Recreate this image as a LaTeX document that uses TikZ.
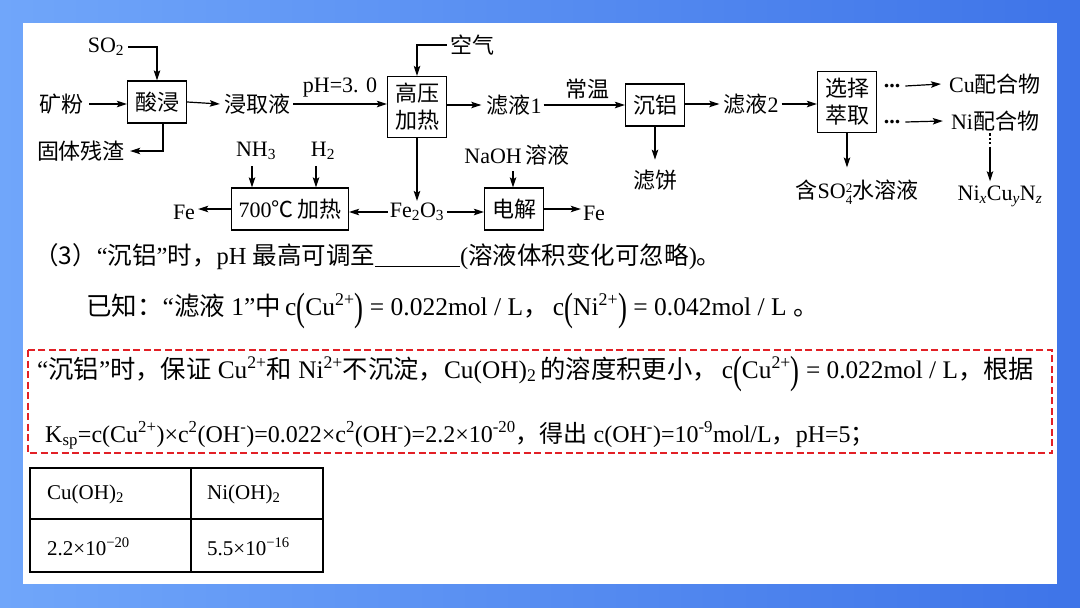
\documentclass[tikz,border=0pt]{standalone}
\usepackage{fontspec}
\setmainfont{Liberation Serif}
\newfontfamily\cjk{Noto Sans CJK SC}
\usetikzlibrary{arrows.meta}
\newcommand\fs{\fontsize{22}{27}\selectfont}
\newcommand\ft{\fontsize{21}{25}\selectfont}
\newcommand\lp{\raisebox{-0.2em}{\scalebox{1.05}[1.55]{(}}}
\newcommand\rp{\raisebox{-0.2em}{\scalebox{1.05}[1.55]{)}}}
\definecolor{bgl}{RGB}{112,166,250}
\definecolor{bgr}{RGB}{62,116,232}
\definecolor{dred}{RGB}{226,32,38}
\begin{document}
\begin{tikzpicture}[x=1pt,y=-1pt,
  every node/.style={inner sep=0pt, font=\fs},
  box/.style={draw, line width=1.3pt, minimum width=59pt, minimum height=42pt, align=center},
  tall/.style={minimum height=61pt},
  arr/.style={line width=1.2pt, -{Stealth[length=10pt,width=6.5pt,inset=2pt]}},
  dotl/.style={line width=2.2pt, dash pattern=on 2.2pt off 2.2pt},
  redbox/.style={draw=dred, line width=2pt, dash pattern=on 7pt off 3.5pt},
  tline/.style={line width=1.2pt}
]
\useasboundingbox (0,0) rectangle (1080,608);
\shade[left color=bgl, right color=bgr] (0,0) rectangle (1080,608);
\fill[white] (23,23) rectangle (1057,584);

% ---------- flowchart ----------
\node (so2) at (106,47) {SO\textsubscript{2}};
\node[box] (b1) at (157,102) {\cjk 酸浸};
\node (kf) at (61,104) {\cjk 矿粉};
\node (gt) at (81,151) {\cjk 固体残渣};
\node (jq) at (257,104) {\cjk 浸取液};
\node[box,tall] (b2) at (417,107) {\cjk 高压\\\cjk 加热};
\node (kq) at (472,45) {\cjk 空气};
\node (ph) at (340,88) {pH=3. 0};
\node (lv1) at (514,105) {{\cjk 滤液}1};
\node (cw) at (587,89) {\cjk 常温};
\node[box] (b3) at (655,105) {\cjk 沉铝};
\node (lb) at (655,180) {\cjk 滤饼};
\node (lv2) at (751,104) {{\cjk 滤液}2};
\node[box,tall] (b4) at (847,102) {\cjk 选择\\\cjk 萃取};
\node (d1) at (892,86) {\bfseries ...};
\node (d2) at (892,122) {\bfseries ...};
\node (cu) at (995,84) {Cu{\cjk 配合物}};
\node (ni) at (995,121) {Ni{\cjk 配合物}};
\node (ncn) at (1000,196) {Ni\textsubscript{\itshape x}Cu\textsubscript{\itshape y}N\textsubscript{\itshape z}};
\node (so4) at (857,192) {{\cjk 含}SO\raisebox{-6pt}{\fontsize{13}{13}\selectfont\shortstack{2\\4}}{\cjk 水溶液}};
\coordinate (nid) at (990,149);

\node (nh3) at (256,151) {NH\textsubscript{3}};
\node (h2) at (323,151) {H\textsubscript{2}};
\node[box, minimum width=117pt] (b5) at (290,209) {700{\cjk ℃\,加热}};
\node (fe1) at (184,212) {Fe};
\node (fe2o3) at (417,212) {Fe\textsubscript{2}O\textsubscript{3}};
\node (naoh) at (517,155) {NaOH\,{\cjk 溶液}};
\node[box] (b6) at (514,209) {\cjk 电解};
\node (fe2) at (594,213) {Fe};

\draw[arr] ([xshift=4pt]so2.east) -| (b1.north);
\draw[arr] ([xshift=6pt]kf.east) -- (kf.east -| b1.west);
\draw[arr] ([xshift=6pt]b1.south) |- ([xshift=5pt]gt.east);
\draw[arr] (b1.east) -- ([xshift=-4pt]jq.west);
\draw[arr] ([xshift=3pt]jq.east) -- (jq.east -| b2.west);
\draw[arr] ([xshift=-3pt]kq.west) -| (b2.north);
\draw[arr] (b2.east |- lv1) -- ([xshift=-5pt]lv1.west);
\draw[arr] ([xshift=2pt]lv1.east) -- (lv1.east -| b3.west);
\draw[arr] (b3.south) -- ([yshift=10pt]lb.north);
\draw[arr] (b3.east |- lv2) -- ([xshift=-4pt]lv2.west);
\draw[arr] ([xshift=3pt]lv2.east) -- (lv2.east -| b4.west);
\draw[arr] (b4.south) -- ([yshift=12pt]b4.south |- so4.north);
\draw[arr] ([xshift=5pt]d1.east) -- ([xshift=-8pt]cu.west);
\draw[arr] ([xshift=5pt]d2.east) -- ([xshift=-8pt]ni.west);
\draw[dotl] ([yshift=-2pt]ni.south -| nid) -- (nid);
\draw[arr] (nid) -- ([yshift=4pt]nid |- ncn.north);

\draw[arr] ([xshift=-4pt,yshift=-6pt]nh3.south) -- ([xshift=-4pt]nh3.south |- b5.north);
\draw[arr] ([xshift=-7pt,yshift=-6pt]h2.south) -- ([xshift=-7pt]h2.south |- b5.north);
\draw[arr] (b2.south) -- ([yshift=2pt]fe2o3.north);
\draw[arr] ([xshift=-2pt]fe2o3.west) -- (fe2o3.west -| b5.east);
\draw[arr] (b5.west) -- ([xshift=3pt]b5.west -| fe1.east);
\draw[arr] ([xshift=3pt]fe2o3.east) -- (fe2o3.east -| b6.west);
\draw[arr] ([xshift=-4pt,yshift=-6pt]naoh.south) -- ([xshift=-4pt]naoh.south |- b6.north);
\draw[arr] (b6.east) -- ([xshift=-2pt]b6.east -| fe2.west);

% ---------- text lines ----------
\node[anchor=base west, font=\fontsize{24.5}{28}\selectfont] (q3) at (34,264) {{\cjk （3）}“{\cjk 沉铝}”{\cjk 时，}pH {\cjk 最高可调至}\rule[-3pt]{85pt}{1pt}({\cjk 溶液体积变化可忽略}){\cjk 。}};
\node[anchor=base west, font=\fontsize{25.5}{29}\selectfont] (known) at (86,315) {{\cjk 已知：}“{\cjk 滤液} 1”{\cjk 中}\,c\lp Cu\textsuperscript{2+}\rp\ = 0.022mol / L{\cjk ，}\,c\lp Ni\textsuperscript{2+}\rp\ = 0.042mol / L {\cjk 。}};

% ---------- red dashed box ----------
\draw[redbox] (28,350) rectangle (1052,453);
\node[anchor=base west, font=\fontsize{25.3}{29}\selectfont] (la) at (37,378) {“{\cjk 沉铝}”{\cjk 时，保证} Cu\textsuperscript{2+}{\cjk 和} Ni\textsuperscript{2+}{\cjk 不沉淀，}Cu(OH)\textsubscript{2}\,{\cjk 的溶度积更小，}\,c\lp Cu\textsuperscript{2+}\rp\ = 0.022mol / L{\cjk ，根据}};
\node[anchor=base west, font=\fontsize{24}{28}\selectfont] (lbx) at (45,442) {K\textsubscript{sp}=c(Cu\textsuperscript{2+})×c\textsuperscript{2}(OH\textsuperscript{-})=0.022×c\textsuperscript{2}(OH\textsuperscript{-})=2.2×10\textsuperscript{-20}{\cjk ，得出} c(OH\textsuperscript{-})=10\textsuperscript{-9}mol/L{\cjk ，}pH=5{\cjk ；}};

% ---------- table ----------
\coordinate (t1) at (30,468);
\coordinate (t2) at (323,572);
\draw[tline] (t1) rectangle (t2);
\draw[tline] (30,519) -- (323,519);
\draw[tline] (191,468) -- (191,572);
\node[anchor=base west, font=\ft] (c11) at (47,499) {Cu(OH)\textsubscript{2}};
\node[anchor=base west, font=\ft] (c12) at (207,499) {Ni(OH)\textsubscript{2}};
\node[anchor=base west, font=\ft] (c21) at (47,555) {2.2×10\textsuperscript{−20}};
\node[anchor=base west, font=\ft] (c22) at (207,555) {5.5×10\textsuperscript{−16}};
\end{tikzpicture}
\end{document}
